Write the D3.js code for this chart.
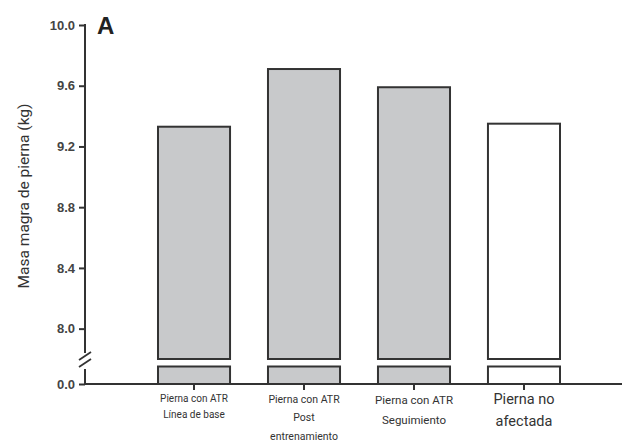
<!DOCTYPE html>
<html>
<head>
<meta charset="utf-8">
<script src="https://cdn.jsdelivr.net/npm/d3@7"></script>
<style>
  body { margin: 0; background: #fff; }
  text { font-family: Roboto, "Liberation Sans", sans-serif; }
</style>
</head>
<body>
<svg id="canvas" width="625" height="447"></svg>
<script>
const categories = ["base", "post", "seg", "noaf"];
const labelLines = [
  ["Pierna con ATR", "Línea de base"],
  ["Pierna con ATR", "Post", "entrenamiento"],
  ["Pierna con ATR", "Seguimiento"],
  ["Pierna no", "afectada"]
];
const labelSizes = [10, 10.5, 11.5, 14.5];
const values = [9.33, 9.71, 9.59, 9.35];
const fills = ["#c8c9cb", "#c8c9cb", "#c8c9cb", "#ffffff"];
const upperTicks = [8.0, 8.4, 8.8, 9.2, 9.6, 10.0];
const lowerTicks = [0.0];
const upperDomain = [7.8, 10.0];
const lowerDomain = [0, 0.12];

const canvas = d3.select("#canvas");
const axisX = 85;

const x = d3.scaleBand().domain(categories).range([136, 582]).paddingInner(0.345).paddingOuter(0.2);
const yUp = d3.scaleLinear().domain(upperDomain).range([359, 25]);
const yLow = d3.scaleLinear().domain(lowerDomain).range([384, 366.5]);

// upper bar segments
canvas.selectAll("rect.up")
  .data(values)
  .enter()
  .append("rect")
  .attr("class", "up")
  .attr("x", (d, i) => x(categories[i]))
  .attr("y", (d) => yUp(d))
  .attr("width", x.bandwidth())
  .attr("height", (d) => yUp(upperDomain[0]) - yUp(d))
  .attr("fill", (d, i) => fills[i])
  .attr("stroke", "#333")
  .attr("stroke-width", 2);

// lower bar segments
canvas.selectAll("rect.low")
  .data(values)
  .enter()
  .append("rect")
  .attr("class", "low")
  .attr("x", (d, i) => x(categories[i]))
  .attr("y", yLow(lowerDomain[1]))
  .attr("width", x.bandwidth())
  .attr("height", yLow(0) - yLow(lowerDomain[1]))
  .attr("fill", (d, i) => fills[i])
  .attr("stroke", "#333")
  .attr("stroke-width", 2);

// y axes
const upAxis = canvas.append("g")
  .attr("transform", "translate(" + axisX + ",0)")
  .call(d3.axisLeft(yUp).tickValues(upperTicks).tickFormat(d3.format(".1f")).tickSize(6).tickSizeOuter(0));
upAxis.select(".domain").remove();

const lowAxis = canvas.append("g")
  .attr("transform", "translate(" + axisX + ",0)")
  .call(d3.axisLeft(yLow).tickValues(lowerTicks).tickFormat(d3.format(".1f")).tickSize(6).tickSizeOuter(0));
lowAxis.select(".domain").remove();

canvas.selectAll(".tick line").attr("stroke", "#333").attr("stroke-width", 2);
canvas.selectAll(".tick text")
  .attr("fill", "#444")
  .style("font-size", "13px")
  .style("font-weight", "bold")
  .style("font-family", "'Liberation Sans', Arial, sans-serif")
  .attr("x", -10);

// axis line with break
canvas.append("line")
  .attr("x1", axisX).attr("x2", axisX)
  .attr("y1", yUp(10.0) - 1).attr("y2", 353)
  .attr("stroke", "#333").attr("stroke-width", 2);
canvas.append("line")
  .attr("x1", axisX).attr("x2", axisX)
  .attr("y1", 369).attr("y2", yLow(0))
  .attr("stroke", "#333").attr("stroke-width", 2);
[0, 7].forEach((off) => {
  canvas.append("line")
    .attr("x1", axisX - 6).attr("y1", 360 + off)
    .attr("x2", axisX + 6).attr("y2", 352 + off)
    .attr("stroke", "#333").attr("stroke-width", 1.8);
});

// x axis
canvas.append("line")
  .attr("x1", axisX - 1).attr("x2", 622)
  .attr("y1", yLow(0)).attr("y2", yLow(0))
  .attr("stroke", "#333").attr("stroke-width", 2);

canvas.selectAll("line.xtick")
  .data(categories)
  .enter()
  .append("line")
  .attr("class", "xtick")
  .attr("x1", (d) => x(d) + x.bandwidth() / 2)
  .attr("x2", (d) => x(d) + x.bandwidth() / 2)
  .attr("y1", yLow(0))
  .attr("y2", yLow(0) + 6)
  .attr("stroke", "#333")
  .attr("stroke-width", 2);

// x labels
const lineGaps = [16, 18.5, 20, 22];
categories.forEach((c, i) => {
  const t = canvas.append("text")
    .attr("text-anchor", "middle")
    .attr("fill", "#333")
    .style("font-size", labelSizes[i] + "px");
  labelLines[i].forEach((ln, j) => {
    t.append("tspan")
      .attr("x", x(c) + x.bandwidth() / 2)
      .attr("y", 402 + i * 0.8 + j * lineGaps[i])
      .text(ln);
  });
});

// y label
canvas.append("text")
  .attr("transform", "translate(29,196) rotate(-90)")
  .attr("text-anchor", "middle")
  .attr("fill", "#333")
  .style("font-size", "15.5px")
  .text("Masa magra de pierna (kg)");

// panel letter
canvas.append("text")
  .attr("x", 97)
  .attr("y", 34)
  .attr("fill", "#222")
  .style("font-size", "24px")
  .style("font-weight", "bold")
  .style("font-family", "'Liberation Sans', Arial, sans-serif")
  .text("A");
</script>
</body>
</html>
